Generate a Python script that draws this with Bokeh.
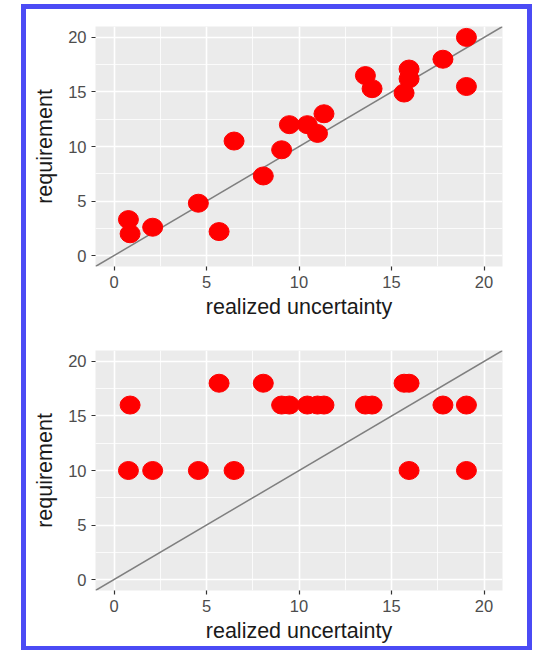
from bokeh.plotting import figure
from bokeh.layouts import column
from bokeh.models import FixedTicker, Range1d, Slope
from bokeh.embed import file_html
from bokeh.resources import INLINE

# realized uncertainty of each item (shared by both panels)
realized = [0.78, 0.87, 2.09, 4.56, 5.68, 6.49, 8.07, 9.06, 9.48, 10.45,
            11.0, 11.35, 13.59, 13.95, 15.68, 15.95, 15.95, 17.78, 19.05, 19.05]
# requirement per item: individually set (top) and fixed classes (bottom)
req_individual = [3.3, 2.0, 2.6, 4.8, 2.2, 10.5, 7.3, 9.7, 12.0, 12.0,
                  11.2, 13.0, 16.5, 15.3, 14.9, 17.1, 16.2, 18.0, 20.0, 15.5]
req_classes = [10, 16, 10, 10, 18, 10, 18, 16, 16, 16,
               16, 16, 16, 16, 18, 18, 10, 16, 16, 10]

major_ticks = [0, 5, 10, 15, 20]
minor_ticks = [2.5, 7.5, 12.5, 17.5]

FONT = "Liberation Sans"


def panel(yvals, height, top, bottom):
    p = figure(width=501, height=height, output_backend="svg", toolbar_location=None,
               x_range=Range1d(-1, 21), y_range=Range1d(-1, 21),
               min_border_left=69, min_border_right=25,
               min_border_top=top, min_border_bottom=bottom,
               background_fill_color="#EBEBEB", border_fill_color="white",
               outline_line_color=None)
    for ax in (p.xaxis[0], p.yaxis[0]):
        ax.ticker = FixedTicker(ticks=major_ticks, minor_ticks=minor_ticks)
        ax.axis_line_color = None
        ax.major_tick_line_color = "#333333"
        ax.major_tick_line_width = 1.2
        ax.major_tick_out = 4
        ax.major_tick_in = 0
        ax.minor_tick_line_color = None
        ax.major_label_text_font = FONT
        ax.major_label_text_font_size = "16.5px"
        ax.major_label_text_color = "#4D4D4D"
        ax.major_label_standoff = 5
        ax.axis_label_text_font = FONT
        ax.axis_label_text_font_size = "21.5px"
        ax.axis_label_text_font_style = "normal"
        ax.axis_label_text_color = "#1A1A1A"
    p.xaxis.axis_label_standoff = 4
    p.yaxis.axis_label_standoff = 8
    p.xaxis.axis_label = "realized uncertainty"
    p.yaxis.axis_label = "requirement"
    for g in (p.xgrid[0], p.ygrid[0]):
        g.grid_line_color = "white"
        g.grid_line_width = 1.6
        g.minor_grid_line_color = "white"
        g.minor_grid_line_width = 0.8
    p.add_layout(Slope(gradient=1, y_intercept=0, line_color="#7F7F7F",
                       line_width=1.5, level="underlay"))
    p.ellipse(x=realized, y=yvals, width=20, height=18,
              width_units="screen", height_units="screen",
              fill_color="#FF0000", line_color="#FF0000")
    return p


p1 = panel(req_individual, 316, 17, 59)
p2 = panel(req_classes, 321, 25, 56)

page = column(p1, p2, margin=(4, 0, 0, 21),
              styles={"border": "5px solid #4B4BF5"})

open("out.html", "w").write(file_html(page, INLINE))
